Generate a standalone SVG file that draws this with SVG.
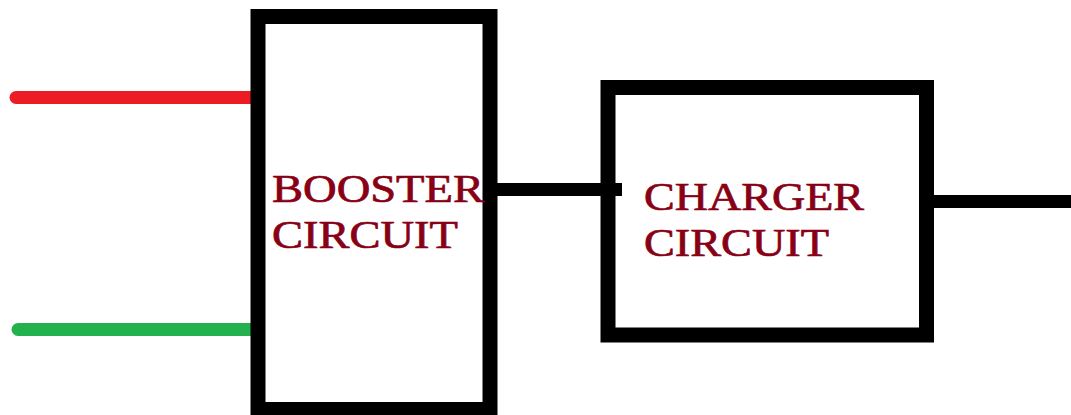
<svg xmlns="http://www.w3.org/2000/svg" width="1071" height="415" viewBox="0 0 1071 415">
<style>
.box{fill:none;stroke:#000;stroke-width:15}
.lbl{font-family:"Liberation Serif","Times New Roman",serif;font-size:39px;fill:#880015;stroke:#880015;stroke-width:0.7}
.wire{stroke-width:13;fill:none}
</style>
<rect width="1071" height="415" fill="#fff"/>
<g id="connectors">
<line class="wire" x1="16" y1="97.5" x2="252" y2="97.5" stroke="#ED1C24" stroke-linecap="round"/>
<line class="wire" x1="18" y1="329.5" x2="251" y2="329.5" stroke="#22B14C" stroke-linecap="round"/>
<line class="wire" x1="490" y1="189.5" x2="622" y2="189.5" stroke="#000"/>
<line class="wire" x1="926" y1="201.5" x2="1071" y2="201.5" stroke="#000"/>
</g>
<g id="booster">
<rect class="box" x="258" y="16.5" width="232" height="393"/>
<text class="lbl" x="272" y="202" textLength="212" lengthAdjust="spacingAndGlyphs">BOOSTER</text>
<text class="lbl" x="272" y="248" textLength="186" lengthAdjust="spacingAndGlyphs">CIRCUIT</text>
</g>
<g id="charger">
<rect class="box" x="608" y="87.5" width="318.5" height="247.5"/>
<text class="lbl" x="644" y="210" textLength="220" lengthAdjust="spacingAndGlyphs">CHARGER</text>
<text class="lbl" x="644" y="256" textLength="185" lengthAdjust="spacingAndGlyphs">CIRCUIT</text>
</g>
</svg>
